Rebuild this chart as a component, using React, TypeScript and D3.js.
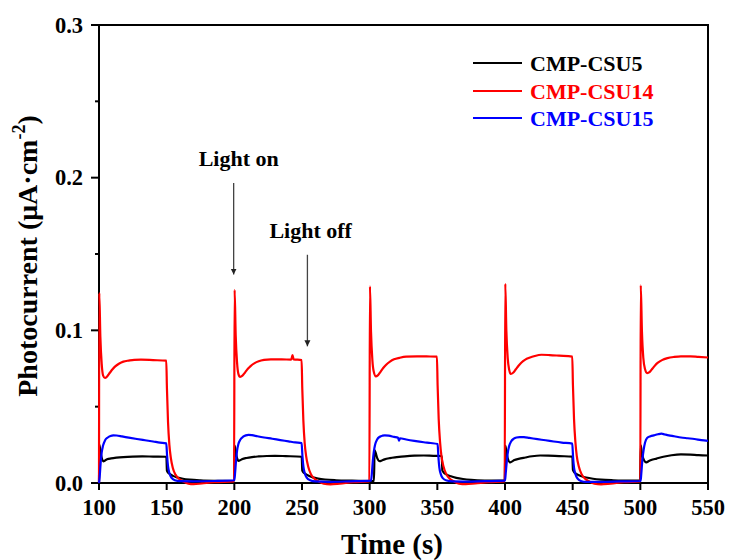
import React from "react";
import * as d3 from "d3";

// ---------- data (time in s, photocurrent in µA·cm^-2) ----------
const seriesNames = ["CMP-CSU5", "CMP-CSU14", "CMP-CSU15"];
const seriesColors = ["#000000", "#ff0000", "#0000ff"];

const xTicks = [100, 150, 200, 250, 300, 350, 400, 450, 500, 550];
const yTicks = [0.0, 0.1, 0.2, 0.3];
const yMinorTicks = [0.05, 0.15, 0.25];

const csu5: [number, number][] = [
  [100, 0], [100.3, 0.025], [101, 0.021], [102, 0.0165], [103.2, 0.0142], [104.5, 0.0148], [106, 0.0155], [109, 0.0161], [113, 0.0166], [118, 0.017], [125, 0.0173], [132, 0.0174], [140, 0.0173], [149.8, 0.0172],
  [150.2, 0.008], [151, 0.0068], [152.5, 0.0058], [155, 0.0045], [158, 0.0036], [162, 0.0028], [167, 0.0022], [175, 0.0017], [187, 0.0014], [199.8, 0.0013],
  [200.2, 0.0245], [201, 0.0205], [202, 0.0163], [203.2, 0.0145], [204.5, 0.015], [206, 0.0157], [209, 0.0164], [213, 0.017], [218, 0.0174], [224, 0.0177], [230, 0.0178], [238, 0.0176], [249.8, 0.0172],
  [250.2, 0.0082], [251, 0.007], [252.5, 0.006], [255, 0.0047], [258, 0.0037], [262, 0.0029], [267, 0.0023], [275, 0.0018], [287, 0.0015], [303.2, 0.0013],
  [303.6, 0.0215], [304.5, 0.0195], [305.5, 0.0165], [307.5, 0.0143], [309, 0.0148], [311, 0.0155], [315, 0.0163], [320, 0.0169], [326, 0.0175], [333, 0.0179], [340, 0.018], [347, 0.0178], [353.3, 0.0177],
  [353.7, 0.0082], [355, 0.0066], [357, 0.0055], [360, 0.0044], [364, 0.0034], [369, 0.0026], [375, 0.002], [385, 0.0016], [399.8, 0.0015],
  [400.3, 0.0244], [401, 0.0205], [402, 0.0162], [403.8, 0.0135], [405, 0.014], [407, 0.015], [410, 0.0158], [415, 0.0167], [420, 0.0175], [426, 0.018], [432, 0.0179], [440, 0.0176], [449.8, 0.0173],
  [450.2, 0.0085], [451.5, 0.0067], [453, 0.0058], [456, 0.0046], [460, 0.0036], [465, 0.0028], [471, 0.0022], [480, 0.0018], [490, 0.0016], [499.8, 0.0015],
  [500.3, 0.0246], [501, 0.0205], [502, 0.0165], [504.5, 0.0135], [506, 0.0142], [508, 0.015], [512, 0.016], [517, 0.0172], [523, 0.0182], [530, 0.0188], [537, 0.0186], [543, 0.0182], [550, 0.018],
];

const csu14: [number, number][] = [
  [100, 0], [100.2, 0.1245], [101, 0.096], [102, 0.078], [103, 0.0705], [104.4, 0.0688], [106, 0.0698], [108, 0.0722], [110, 0.0745], [112, 0.0764], [115, 0.0783], [118, 0.0795], [122, 0.0802], [126, 0.0807], [131, 0.0808], [140, 0.0805], [149.7, 0.0801],
  [150.2, 0.062], [151, 0.04], [152, 0.025], [153, 0.017], [154.5, 0.01], [156.5, 0.0055], [159, 0.0028], [162, 0.0012], [166, -0.0004], [170, -0.0008], [176, -0.0003], [185, 0.0005], [199.8, 0.001],
  [200.2, 0.1265], [201, 0.097], [202, 0.079], [203, 0.0715], [204.3, 0.0695], [206, 0.0703], [208, 0.0725], [210, 0.0748], [212, 0.0766], [215, 0.0785], [218, 0.0797], [222, 0.0806], [227, 0.081], [235, 0.081], [242, 0.0808], [243, 0.0838], [243.8, 0.081], [249.7, 0.0805],
  [250.2, 0.062], [251, 0.041], [252, 0.026], [253, 0.018], [254.5, 0.011], [256.5, 0.006], [259, 0.003], [262, 0.0012], [266, -0.0005], [271, -0.0009], [278, -0.0004], [288, 0.0005], [299.8, 0.001],
  [300.2, 0.1288], [301, 0.099], [302, 0.0805], [303, 0.073], [304.6, 0.0698], [306, 0.0705], [308, 0.0728], [310, 0.0753], [312, 0.0773], [315, 0.0795], [318, 0.081], [322, 0.082], [327, 0.0828], [335, 0.083], [342, 0.0829], [349.7, 0.0828],
  [350.2, 0.064], [351, 0.042], [352, 0.027], [353, 0.018], [354.5, 0.011], [356.5, 0.006], [359, 0.003], [362, 0.0012], [366, -0.0004], [371, -0.0008], [378, -0.0003], [388, 0.0005], [399.8, 0.001],
  [400.2, 0.1305], [401, 0.1], [402, 0.082], [403, 0.0745], [404.3, 0.0714], [406, 0.0722], [408, 0.0745], [410, 0.0768], [412, 0.0788], [415, 0.0808], [418, 0.082], [422, 0.0832], [427, 0.084], [433, 0.0838], [440, 0.0834], [449.7, 0.0828],
  [450.2, 0.064], [451, 0.042], [452, 0.027], [453, 0.018], [454.5, 0.011], [456.5, 0.006], [459, 0.003], [462, 0.0012], [466, -0.0005], [471, -0.0009], [478, -0.0004], [488, 0.0005], [500, 0.001],
  [500.3, 0.1295], [501.2, 0.099], [502.2, 0.082], [503.5, 0.0745], [505, 0.072], [507, 0.0728], [509, 0.075], [511, 0.0772], [513, 0.0788], [516, 0.0805], [520, 0.0818], [525, 0.0826], [530, 0.083], [537, 0.083], [543, 0.0826], [550, 0.0822],
];

const csu15: [number, number][] = [
  [100, 0], [100.5, 0.004], [101.2, 0.013], [102, 0.02], [103, 0.0245], [104.5, 0.028], [106.5, 0.0298], [108.5, 0.0308], [110.6, 0.0312], [113, 0.0311], [117, 0.0305], [122, 0.0297], [128, 0.0288], [134, 0.028], [140, 0.0272], [145, 0.0265], [149.7, 0.026],
  [150.3, 0.018], [151, 0.011], [152, 0.0065], [153.5, 0.0035], [156, 0.0018], [160, 0.0012], [170, 0.0011], [185, 0.0013], [200, 0.0018],
  [200.5, 0.006], [201.2, 0.014], [202, 0.021], [203, 0.0255], [204.5, 0.0285], [206.5, 0.0303], [208.5, 0.0312], [210.5, 0.0315], [213, 0.0313], [217, 0.0306], [222, 0.0298], [228, 0.029], [234, 0.0281], [240, 0.0273], [245, 0.0266], [249.7, 0.0262],
  [250.3, 0.018], [251, 0.011], [252, 0.0065], [253.5, 0.0035], [256, 0.0018], [260, 0.001], [270, 0.0008], [285, 0.0011], [301, 0.0015],
  [301.6, 0.006], [302.3, 0.014], [303, 0.02], [304, 0.025], [305.5, 0.0285], [307.5, 0.0303], [309.5, 0.031], [311.2, 0.0312], [314, 0.031], [318, 0.0302], [321, 0.0296], [321.7, 0.0278], [322.4, 0.0293], [327, 0.0285], [333, 0.0276], [340, 0.0267], [345, 0.0262], [350.2, 0.0255],
  [350.8, 0.017], [351.5, 0.01], [352.5, 0.006], [354, 0.0032], [357, 0.0016], [361, 0.001], [370, 0.0009], [385, 0.0012], [400, 0.0015],
  [400.5, 0.006], [401.2, 0.013], [402, 0.0195], [403, 0.024], [404.5, 0.0272], [406.5, 0.029], [408.5, 0.0298], [410.9, 0.0301], [414, 0.03], [418, 0.0295], [424, 0.0287], [430, 0.028], [436, 0.0272], [442, 0.0265], [449.7, 0.0258],
  [450.3, 0.017], [451, 0.01], [452, 0.006], [453.5, 0.003], [456, 0.0013], [460, 0.0007], [470, 0.0007], [485, 0.001], [500.2, 0.0013],
  [500.7, 0.006], [501.5, 0.015], [502.5, 0.022], [503.5, 0.0265], [505, 0.0295], [507.5, 0.0306], [510, 0.0312], [513, 0.0319], [515.6, 0.0323], [518, 0.0318], [521, 0.0312], [525, 0.0306], [530, 0.0298], [535, 0.0293], [540, 0.0288], [545, 0.0281], [550, 0.0276],
];

const seriesData = [csu5, csu14, csu15];

// annotations: [label, time, arrow-top value, arrow-tip value]
const annotationLabels = ["Light on", "Light off"];
const annotationTimes = [199.5, 254];
const annotationTops = [0.1965, 0.1495];
const annotationTips = [0.1365, 0.0895];

// ---------- layout ----------
const W = 729;
const H = 560;
const M = { left: 99, right: 21, top: 25, bottom: 77 };
const FONT = "'Liberation Serif', 'Times New Roman', Times, serif";

export default function App() {
  const x = d3.scaleLinear().domain([100, 550]).range([M.left, W - M.right]);
  const y = d3.scaleLinear().domain([0, 0.3]).range([H - M.bottom, M.top]);
  const line = d3
    .line<[number, number]>()
    .x((d) => x(d[0]))
    .y((d) => y(d[1]))
    .curve(d3.curveMonotoneX);

  const x0 = M.left;
  const x1 = W - M.right;
  const y0 = H - M.bottom;
  const y1 = M.top;

  const legendX = 473;
  const legendY = [63, 91, 118];

  return (
    <svg
      width={W}
      height={H}
      viewBox={`0 0 ${W} ${H}`}
      style={{ position: "absolute", left: 0, top: 0, background: "#fff" }}
      fontFamily={FONT}
      fontWeight="bold"
    >
      <defs>
        <marker id="arrowHead" viewBox="0 0 10 10" refX="10" refY="5" markerWidth="6" markerHeight="10" markerUnits="userSpaceOnUse" orient="auto">
          <path d="M0,0 L10,5 L0,10 z" fill="#222" />
        </marker>
      </defs>

      {/* frame */}
      <rect x={x0} y={y1} width={x1 - x0} height={y0 - y1} fill="none" stroke="#000" strokeWidth={2} />

      {/* x ticks */}
      {xTicks.map((t) => (
        <g key={"xt" + t}>
          <line x1={x(t)} x2={x(t)} y1={y0} y2={y0 + 7} stroke="#000" strokeWidth={2} />
          <text x={x(t)} y={y0 + 32} textAnchor="middle" fontSize={22.5}>
            {t}
          </text>
        </g>
      ))}

      {/* y ticks */}
      {yTicks.map((t) => (
        <g key={"yt" + t}>
          <line x1={x0 - 8} x2={x0} y1={y(t)} y2={y(t)} stroke="#000" strokeWidth={2} />
          <text x={x0 - 16} y={y(t) + 7.5} textAnchor="end" fontSize={22.5}>
            {t.toFixed(1)}
          </text>
        </g>
      ))}
      {yMinorTicks.map((t) => (
        <line key={"ym" + t} x1={x0 - 4} x2={x0} y1={y(t)} y2={y(t)} stroke="#000" strokeWidth={2} />
      ))}

      {/* axis titles */}
      <text x={392} y={554} textAnchor="middle" fontSize={29}>
        Time (s)
      </text>
      <text transform={`translate(37,256) rotate(-90)`} textAnchor="middle" fontSize={28}>
        Photocurrent (μA·cm
        <tspan fontSize={18} dy={-12}>-2</tspan>
        <tspan dy={12}>)</tspan>
      </text>

      {/* series */}
      {seriesData.map((d, i) => (
        <path key={seriesNames[i]} d={line(d) || ""} fill="none" stroke={seriesColors[i]} strokeWidth={2.2} strokeLinejoin="round" />
      ))}

      {/* annotations */}
      {annotationLabels.map((lab, i) => (
        <g key={lab}>
          <line
            x1={x(annotationTimes[i])}
            x2={x(annotationTimes[i])}
            y1={y(annotationTops[i])}
            y2={y(annotationTips[i])}
            stroke="#444"
            strokeWidth={1.3}
            markerEnd="url(#arrowHead)"
          />
          <text x={x(annotationTimes[i]) + (i === 0 ? -35 : -38)} y={y(annotationTops[i]) - 17} fontSize={22}>
            {lab}
          </text>
        </g>
      ))}

      {/* legend */}
      {seriesNames.map((n, i) => (
        <g key={"lg" + n}>
          <line x1={legendX} x2={legendX + 49} y1={legendY[i]} y2={legendY[i]} stroke={seriesColors[i]} strokeWidth={2} />
          <text x={legendX + 57} y={legendY[i] + 7.5} fontSize={22} fill={seriesColors[i]}>
            {n}
          </text>
        </g>
      ))}
    </svg>
  );
}
